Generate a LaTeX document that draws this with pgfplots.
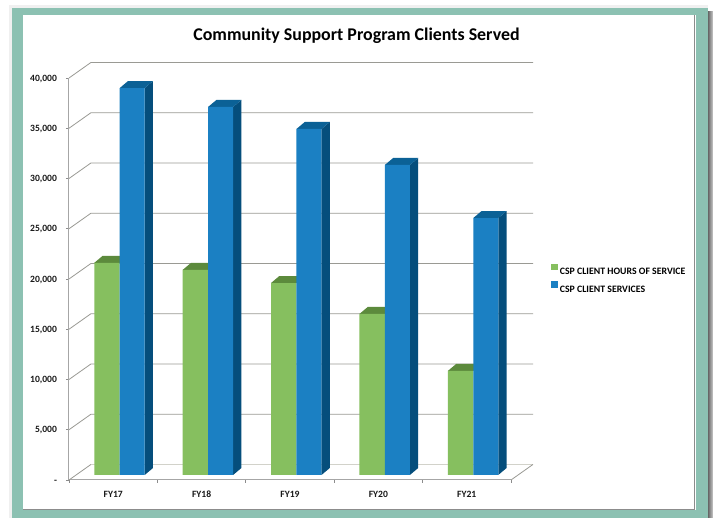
\documentclass[border=0pt]{standalone}
\usepackage{pgfplots}
\pgfplotsset{compat=1.18}
\usepackage{fontspec}
\setmainfont{Carlito}
\definecolor{frameteal}{HTML}{8CC1B2}
\definecolor{cgreen}{HTML}{86BF5F}
\definecolor{cgreentop}{HTML}{5C8A3C}
\definecolor{cblue}{HTML}{1B80C3}
\definecolor{cbluetop}{HTML}{0B6196}
\definecolor{cblueside}{HTML}{054E7C}
\definecolor{cgrid}{HTML}{9A9A94}
\definecolor{cfloor}{HTML}{D2D2CA}
\begin{document}
\begin{tikzpicture}
\path[use as bounding box] (-69pt,-38pt) rectangle (644pt,480pt);
% shadow and frame
\fill[gray!12] (-60pt,-38pt) rectangle (639pt,475pt);
\fill[white] (-69pt,-38pt) rectangle (-63pt,480pt);
\fill[white] (-69pt,476pt) rectangle (644pt,480pt);
\shade[left color=black!60,right color=black!20] (639pt,-38pt) rectangle (644pt,468pt);
\fill[frameteal] (-57pt,-38pt) rectangle (639pt,472pt);
\fill[white] (-46pt,-30pt) rectangle (627pt,465pt);
\fill[black!45] (625pt,-30pt) rectangle (626.3pt,465pt);
\fill[black!45] (-46pt,-30pt) rectangle (626.3pt,-29pt);
\begin{axis}[
  at={(0pt,0pt)}, anchor=south west,
  scale only axis, width=442pt, height=402pt,
  xmin=-0.5, xmax=4.5, ymin=0, ymax=40000,
  clip=false,
  scaled y ticks=false,
  axis x line=bottom, axis y line=left,
  axis line style={-, line width=1pt, color=black!35},
  xtick={-0.5,0.5,1.5,2.5,3.5,4.5},
  x tick label as interval=true,
  xticklabels={FY17,FY18,FY19,FY20,FY21},
  ytick={0,5000,10000,15000,20000,25000,30000,35000,40000},
  yticklabels={-,{5,000},{10,000},{15,000},{20,000},{25,000},{30,000},{35,000},{40,000}},
  tick style={color=black!45, line width=0.7pt},
  major tick length=3pt,
  tick align=outside,
  ticklabel style={font=\bfseries\fontsize{9.6}{11}\selectfont, color=black!90},
  x tick label style={yshift=-4pt, text height=7pt, text depth=0pt},
  y tick label style={xshift=-5.5pt, text height=6.2pt, text depth=0pt},
  title={Community Support Program Clients Served},
  title style={at={(0.6505,1.091)}, anchor=center, font=\bfseries\fontsize{17.9}{20}\selectfont, color=black},
  legend style={at={(1.091,0.538)}, anchor=north west, draw=none, fill=none,
    font=\bfseries\fontsize{9.8}{10}\selectfont, row sep=2.8pt, inner sep=0pt,
    /tikz/every even column/.style={column sep=2pt}},
  legend cell align=left,
  legend image code/.code={\fill[#1] (0pt,-3pt) rectangle (6.5pt,3.5pt);},
]
% back wall gridlines and floor
\addplot[forget plot, cgrid, line width=0.8pt] coordinates {(-0.5,40000)(-0.251,41550)(4.749,41550)};
\addplot[forget plot, cgrid, line width=0.8pt] coordinates {(-0.5,35000)(-0.251,36550)(4.749,36550)};
\addplot[forget plot, cgrid, line width=0.8pt] coordinates {(-0.5,30000)(-0.251,31550)(4.749,31550)};
\addplot[forget plot, cgrid, line width=0.8pt] coordinates {(-0.5,25000)(-0.251,26550)(4.749,26550)};
\addplot[forget plot, cgrid, line width=0.8pt] coordinates {(-0.5,20000)(-0.251,21550)(4.749,21550)};
\addplot[forget plot, cgrid, line width=0.8pt] coordinates {(-0.5,15000)(-0.251,16550)(4.749,16550)};
\addplot[forget plot, cgrid, line width=0.8pt] coordinates {(-0.5,10000)(-0.251,11550)(4.749,11550)};
\addplot[forget plot, cgrid, line width=0.8pt] coordinates {(-0.5,5000)(-0.251,6550)(4.749,6550)};
\addplot[forget plot, cgrid, line width=0.8pt] coordinates {(-0.5,0)(-0.251,1550)};
\addplot[forget plot, cfloor, line width=0.8pt] coordinates {(-0.251,1550)(4.749,1550)};
\addplot[forget plot, cgrid, line width=0.8pt] coordinates {(4.5,0)(4.749,1550)};
% green top faces
\addplot[forget plot, fill=cgreentop, draw=none, yshift=5pt] coordinates {(-0.2149,21100)(0.0735,21100)(0.1674,21797)(-0.121,21797)} -- cycle;
\addplot[forget plot, fill=cgreentop, draw=none, yshift=5pt] coordinates {(0.7851,20400)(1.0735,20400)(1.1674,21097)(0.879,21097)} -- cycle;
\addplot[forget plot, fill=cgreentop, draw=none, yshift=5pt] coordinates {(1.7851,19100)(2.0735,19100)(2.1674,19797)(1.879,19797)} -- cycle;
\addplot[forget plot, fill=cgreentop, draw=none, yshift=5pt] coordinates {(2.7851,16020)(3.0735,16020)(3.1674,16717)(2.879,16717)} -- cycle;
\addplot[forget plot, fill=cgreentop, draw=none, yshift=5pt] coordinates {(3.7851,10350)(4.0735,10350)(4.1674,11047)(3.879,11047)} -- cycle;
% blue side faces
\addplot[forget plot, fill=cblueside, draw=none, yshift=5pt] coordinates {(0.3563,0)(0.4502,697)(0.4502,39197)(0.3563,38500)} -- cycle;
\addplot[forget plot, fill=cblueside, draw=none, yshift=5pt] coordinates {(1.3563,0)(1.4502,697)(1.4502,37317)(1.3563,36620)} -- cycle;
\addplot[forget plot, fill=cblueside, draw=none, yshift=5pt] coordinates {(2.3563,0)(2.4502,697)(2.4502,35127)(2.3563,34430)} -- cycle;
\addplot[forget plot, fill=cblueside, draw=none, yshift=5pt] coordinates {(3.3563,0)(3.4502,697)(3.4502,31547)(3.3563,30850)} -- cycle;
\addplot[forget plot, fill=cblueside, draw=none, yshift=5pt] coordinates {(4.3563,0)(4.4502,697)(4.4502,26267)(4.3563,25570)} -- cycle;
% blue top faces
\addplot[forget plot, fill=cbluetop, draw=none, yshift=5pt] coordinates {(0.0735,38500)(0.3563,38500)(0.4502,39197)(0.1674,39197)} -- cycle;
\addplot[forget plot, fill=cbluetop, draw=none, yshift=5pt] coordinates {(1.0735,36620)(1.3563,36620)(1.4502,37317)(1.1674,37317)} -- cycle;
\addplot[forget plot, fill=cbluetop, draw=none, yshift=5pt] coordinates {(2.0735,34430)(2.3563,34430)(2.4502,35127)(2.1674,35127)} -- cycle;
\addplot[forget plot, fill=cbluetop, draw=none, yshift=5pt] coordinates {(3.0735,30850)(3.3563,30850)(3.4502,31547)(3.1674,31547)} -- cycle;
\addplot[forget plot, fill=cbluetop, draw=none, yshift=5pt] coordinates {(4.0735,25570)(4.3563,25570)(4.4502,26267)(4.1674,26267)} -- cycle;
% front faces
\addplot[ybar, bar width=25.4pt, bar shift=-6.2pt, fill=cgreen, draw=none, yshift=5pt]
  coordinates {(0,21100)(1,20400)(2,19100)(3,16020)(4,10350)};
\addlegendentry{CSP CLIENT HOURS OF SERVICE}
\addplot[ybar, bar width=25pt, bar shift=19pt, fill=cblue, draw=none, yshift=5pt]
  coordinates {(0,38500)(1,36620)(2,34430)(3,30850)(4,25570)};
\addlegendentry{CSP CLIENT SERVICES}
\end{axis}
\end{tikzpicture}
\end{document}
